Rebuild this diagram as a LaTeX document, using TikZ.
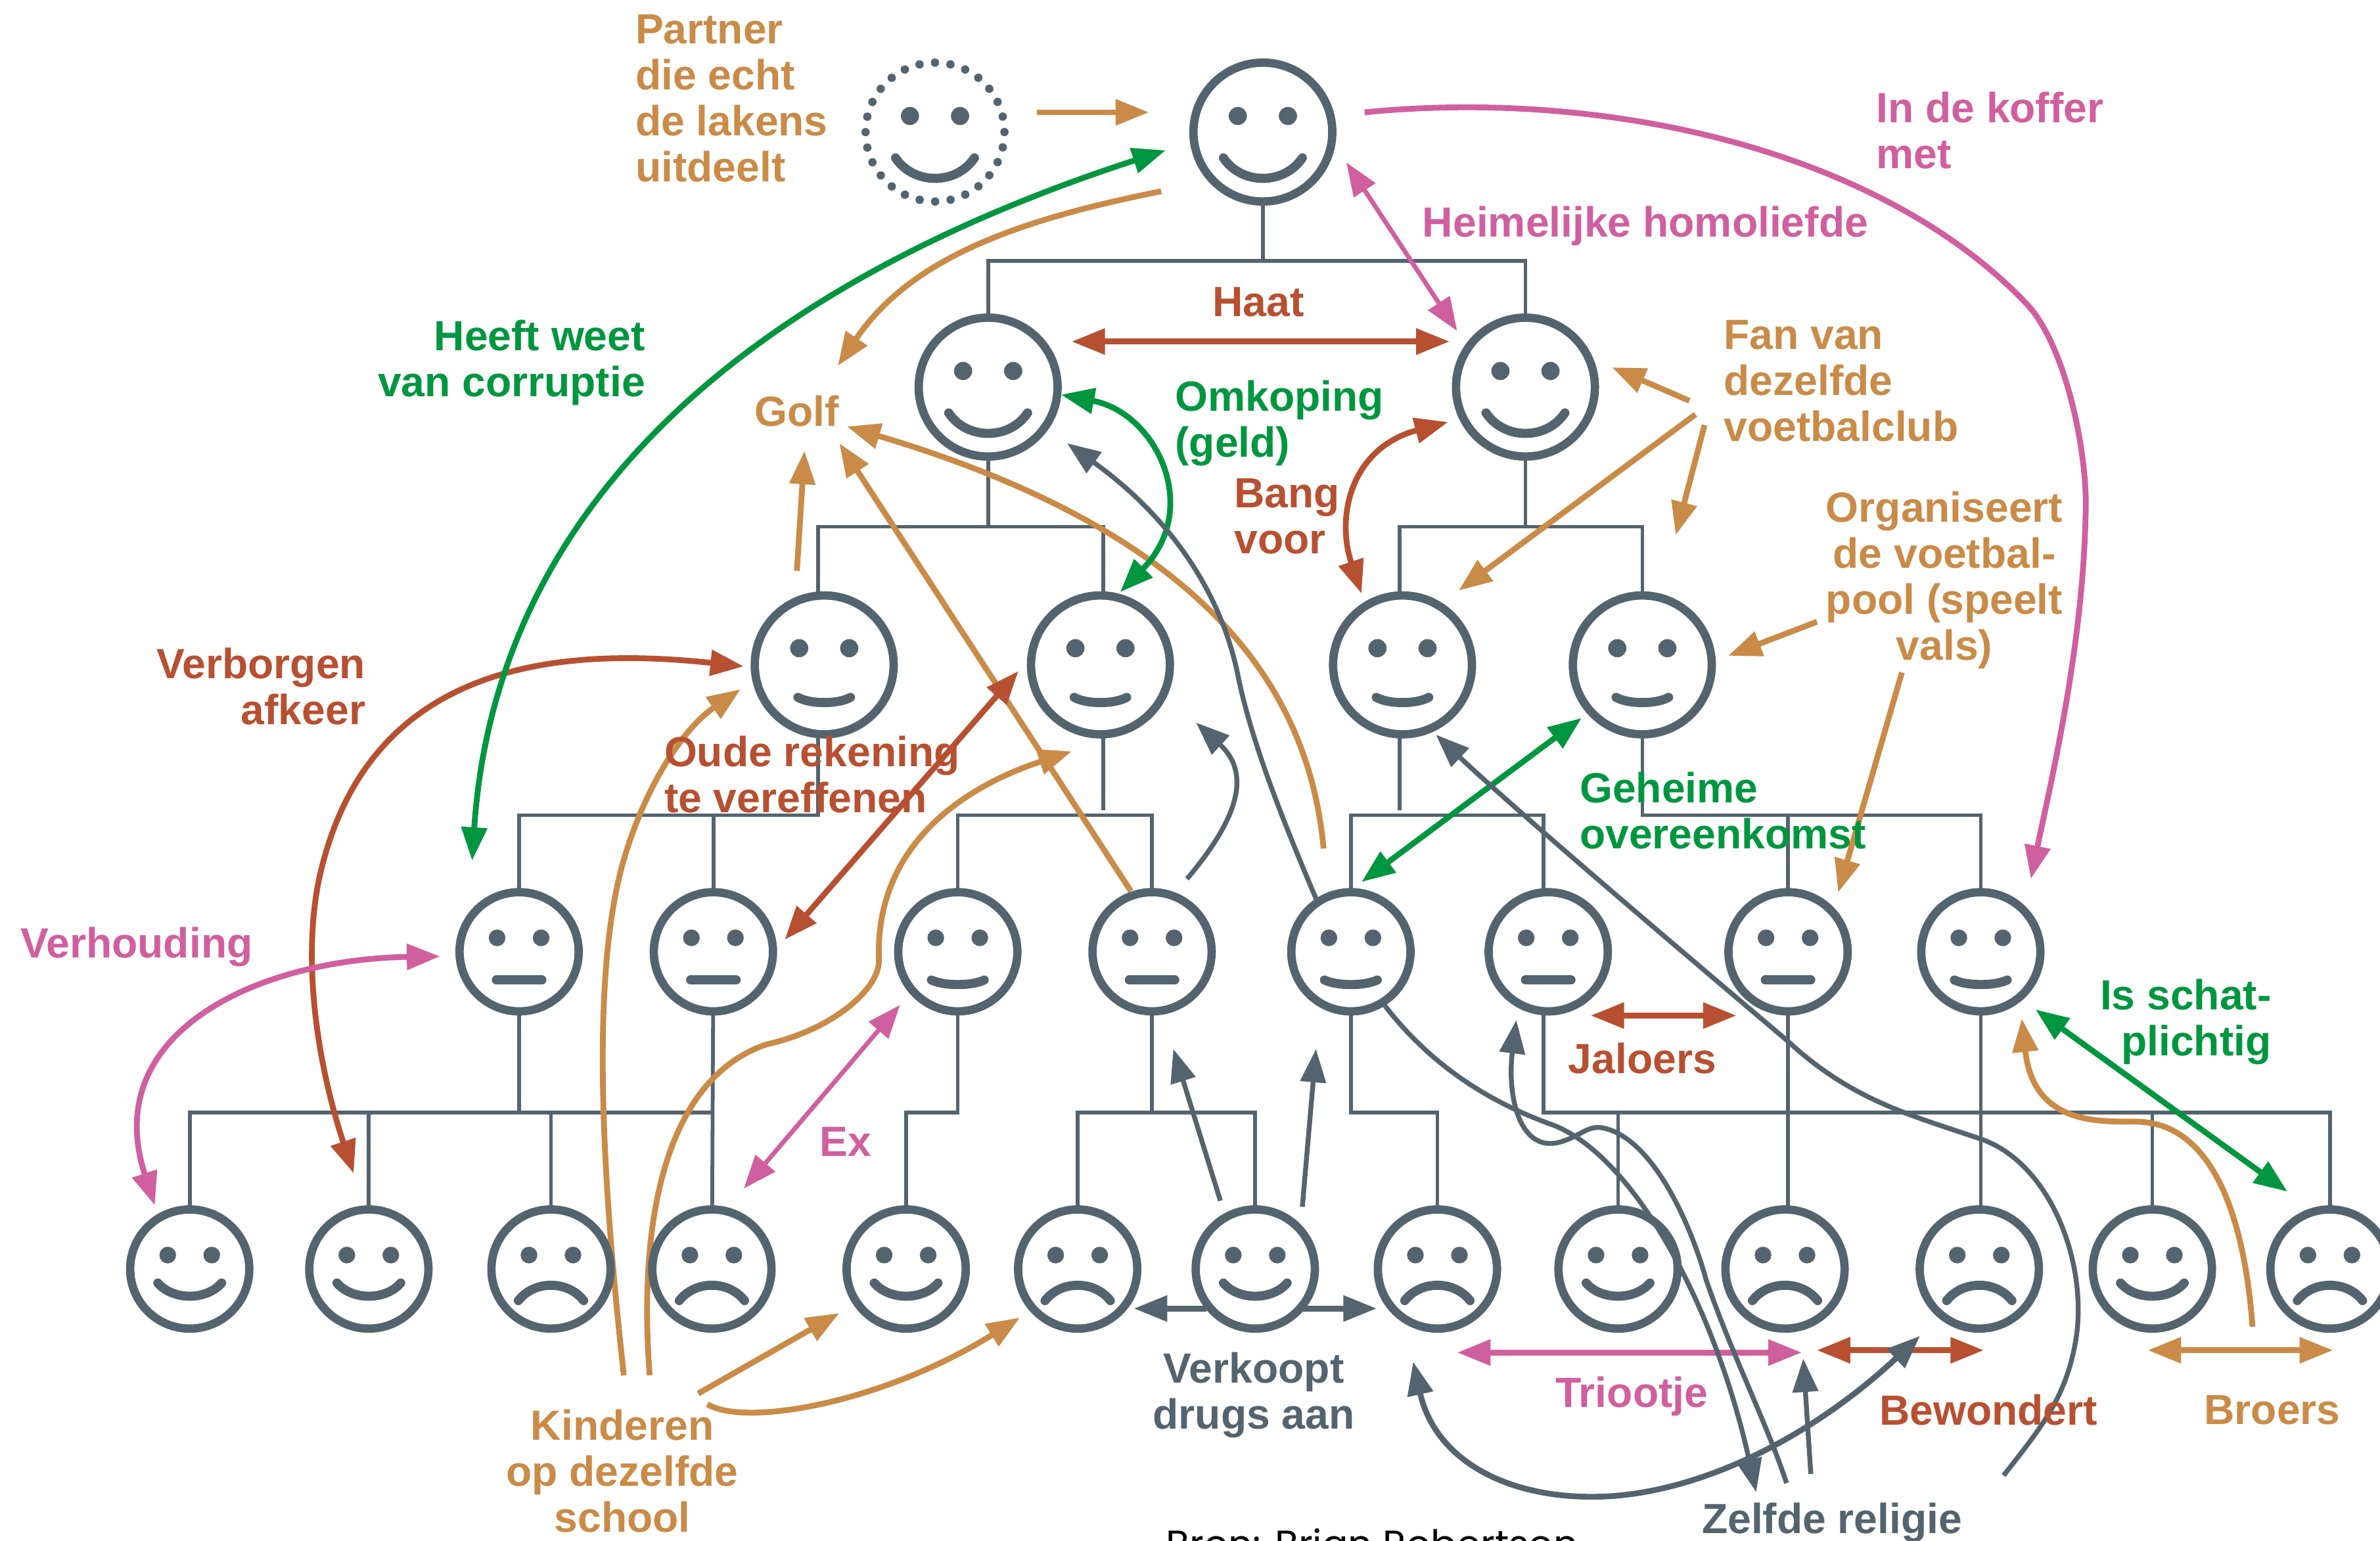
\documentclass[tikz,border=0pt]{standalone}
\usepackage{fontspec}
\setmainfont{Liberation Sans}
\newfontfamily\bronfont{Poppins}
\usetikzlibrary{arrows.meta,backgrounds}
\definecolor{leisteen}{HTML}{54646F}
\definecolor{oranje}{HTML}{C98B47}
\definecolor{roest}{HTML}{B75031}
\definecolor{roze}{HTML}{D05F9F}
\definecolor{groen}{HTML}{00963F}
\tikzset{
  hoofd/.style={circle,draw=leisteen,line width=5.5pt,inner sep=0pt,outer sep=0pt,minimum size=91.5pt},
  hoofdklein/.style={hoofd,minimum size=78.5pt},
  stippel/.style={hoofd,line cap=round,dash pattern=on 0pt off 10.27pt},
  mondlijn/.style={draw=leisteen,line width=6pt,line cap=round},
  boom/.style={draw=leisteen,line width=2.5pt},
  pijl/.style={line width=3.8pt,>={Triangle[length=22pt,width=16.5pt]}},
  tekst/.style={font=\bfseries\fontsize{27.8}{30.3}\selectfont,inner sep=0pt}
}
\newcommand{\ogen}[4]{\fill[leisteen] ([shift={(-#2,-#3)}]#1.center) circle (#4) ([shift={(#2,-#3)}]#1.center) circle (#4);}
\newcommand{\mond}[5]{\draw[mondlijn] ([shift={(-#2,#3)}]#1.center) .. controls ([shift={(-#4,#5)}]#1.center) and ([shift={(#4,#5)}]#1.center) .. ([shift={(#2,#3)}]#1.center);}
\newcommand{\blijgroot}[3]{\node[hoofd] (#1) at (#2,#3) {}; \ogen{#1}{16.5}{10.6}{6pt} \mond{#1}{26}{17}{14}{35}}
\newcommand{\flauwgroot}[3]{\node[hoofd] (#1) at (#2,#3) {}; \ogen{#1}{16.5}{11}{6pt} \mond{#1}{17.3}{21.4}{9}{26}}
\newcommand{\flauw}[3]{\node[hoofdklein] (#1) at (#2,#3) {}; \ogen{#1}{14.5}{9.2}{5.5pt} \mond{#1}{17.4}{18.6}{9}{22.6}}
\newcommand{\recht}[3]{\node[hoofdklein] (#1) at (#2,#3) {}; \ogen{#1}{14.5}{9.2}{5.5pt} \mond{#1}{15}{18.6}{5}{18.6}}
\newcommand{\blij}[3]{\node[hoofdklein] (#1) at (#2,#3) {}; \ogen{#1}{14.5}{9.2}{5.5pt} \mond{#1}{21}{9.2}{11}{20.8}}
\newcommand{\sip}[3]{\node[hoofdklein] (#1) at (#2,#3) {}; \ogen{#1}{14.5}{9.2}{5.5pt} \mond{#1}{21.5}{20.8}{11}{7.3}}

\begin{document}
\begin{tikzpicture}[x=1pt,y=-1pt]
\clip (0,0) rectangle (1568,1015);
% personen
\node[stippel] (PX) at (616,87) {};
\ogen{PX}{16.5}{10.6}{6pt} \mond{PX}{26}{17}{14}{35}
\blijgroot{P0}{832}{87}
\blijgroot{P1}{651}{255}
\blijgroot{P2}{1005}{255}
\flauwgroot{P3}{543}{438}
\flauwgroot{P4}{725}{438}
\flauwgroot{P5}{924}{438}
\flauwgroot{P6}{1082}{438}
\recht{P7}{342}{627}
\recht{P8}{470}{627}
\flauw{P9}{631}{627}
\recht{P10}{759}{627}
\flauw{P11}{890}{627}
\recht{P12}{1020}{627}
\recht{P13}{1178}{627}
\flauw{P14}{1305}{627}
\blij{P15}{125}{836}
\blij{P16}{243}{836}
\sip{P17}{363}{836}
\sip{P18}{469}{836}
\blij{P19}{597}{836}
\sip{P20}{710}{836}
\blij{P21}{827}{836}
\sip{P22}{947}{836}
\blij{P23}{1066}{836}
\sip{P24}{1176}{836}
\sip{P25}{1304}{836}
\blij{P26}{1418}{836}
\sip{P27}{1535}{836}
% teksten
\node[tekst,text=oranje,align=left] (TPartner) at (482,65) {Partner\\die echt\\de lakens\\uitdeelt};
\node[tekst,text=groen,align=right] (THeeft) at (337,239) {Heeft weet\\van corruptie};
\node[tekst,text=oranje] (TGolf) at (525,271) {Golf};
\node[tekst,text=roest,align=right] (TVerborgen) at (172,452) {Verborgen\\afkeer};
\node[tekst,text=roest,align=left] (TOude) at (535,510) {Oude rekening\\te vereffenen};
\node[tekst,text=roze] (TVerhouding) at (90,624) {Verhouding};
\node[tekst,text=roest] (THaat) at (829,199) {Haat};
\node[tekst,text=groen,align=left] (TOmkoping) at (843,279) {Omkoping\\(geld)};
\node[tekst,text=roest,align=left] (TBang) at (848,340) {Bang\\voor};
\node[tekst,text=roze] (THeimelijk) at (1084,149) {Heimelijke homoliefde};
\node[tekst,text=roze,align=left] (TKoffer) at (1311,86) {In de koffer\\met};
\node[tekst,text=oranje,align=left] (TFan) at (1213,251) {Fan van\\dezelfde\\voetbalclub};
\node[tekst,text=oranje,align=center] (TOrganiseert) at (1281,382) {Organiseert\\de voetbal-\\pool (speelt\\vals)};
\node[tekst,text=groen,align=left] (TGeheime) at (1135,534) {Geheime\\overeenkomst};
\node[tekst,text=groen,align=right] (TSchat) at (1440,673) {Is schat-\\plichtig};
\node[tekst,text=roest] (TJaloers) at (1082,697) {Jaloers};
\node[tekst,text=roze] (TEx) at (557,752) {Ex};
\node[tekst,text=leisteen,align=center] (TVerkoopt) at (826,919) {Verkoopt\\drugs aan};
\node[tekst,text=oranje,align=center] (TKinderen) at (410,969) {Kinderen\\op dezelfde\\school};
\node[tekst,text=roze] (TTriootje) at (1075,920) {Triootje};
\node[tekst,text=roest] (TBewondert) at (1310,929) {Bewondert};
\node[tekst,text=oranje] (TBroers) at (1497,929) {Broers};
\node[tekst,text=leisteen] (TReligie) at (1207,1003) {Zelfde religie};
\node[font=\bronfont\fontsize{25.3}{30}\selectfont,anchor=base west,inner sep=0pt] (TBron) at (768,1026) {Bron: Brian Robertson};
\begin{scope}[on background layer]
% stamboom
\draw[boom] (P0) -- (P0 |- 0,172);
\draw[boom] (P1) -- (P1 |- 0,172) -- (P2 |- 0,172) -- (P2);
\draw[boom] (P1) -- (P1 |- 0,347);
\draw[boom] ([xshift=-4pt]P3.north) |- (P1 |- 0,347) -| ([xshift=2pt]P4.north);
\draw[boom] (P2) -- (P2 |- 0,347);
\draw[boom] ([xshift=-2pt]P5.north) |- (P2 |- 0,347) -| (P6.north);
\draw[boom] ([xshift=-4pt]P3.south) |- (P7 |- 0,537) -- (P7);
\draw[boom] (P8) -- (P8 |- 0,537);
\draw[boom] ([xshift=2pt]P4.south) -- ++(0,50);
\draw[boom] (P9) -- (P9 |- 0,537) -- (P10 |- 0,537) -- (P10);
\draw[boom] ([xshift=-2pt]P5.south) -- ++(0,50);
\draw[boom] (P11) -- (P11 |- 0,537) -- ([xshift=-3pt]P12.center |- 0,537) -- ([xshift=-3pt]P12.north);
\draw[boom] (P6) |- (P14 |- 0,537) -- (P14);
\draw[boom] (P13) -- (P13 |- 0,537);
\draw[boom] (P7) -- (P7 |- 0,733);
\draw[boom] (P15) |- (P18 |- 0,733);
\draw[boom] (P16) -- (P16 |- 0,733);
\draw[boom] (P17) -- (P17 |- 0,733);
\draw[boom] (P8) -- (P18);
\draw[boom] (P9) -- (P9 |- 0,733) -| (P19);
\draw[boom] (P10) -- (P10 |- 0,733);
\draw[boom] (P20) |- (P21 |- 0,733) -- (P21);
\draw[boom] (P11) |- (P22 |- 0,733) -- (P22);
\draw[boom] ([xshift=-3pt]P12.south) |- (P27 |- 0,733) -- (P27);
\draw[boom] (P23) -- (P23 |- 0,733);
\draw[boom] (P26) -- (P26 |- 0,733);
\draw[boom] (P13) -- (P13 |- P24.north);
\draw[boom] (P14) -- (P14 |- P25.north);
% oranje
\draw[pijl,oranje,->] ([shift={(67,-13)}]PX.center) -- ([shift={(-75,-13)}]P0.center);
\draw[pijl,oranje,->] ([shift={(-67,39)}]P0.center) .. controls (670,145) and (600,170) .. ([shift={(27,-30)}]TGolf.center);
\draw[pijl,oranje,->] ([shift={(-18,-62)}]P3.center) -- ([shift={(5,26)}]TGolf.center);
\draw[pijl,oranje,->] ([shift={(-14,-40)}]P10.center) -- ([shift={(28,21)}]TGolf.center);
\draw[pijl,oranje,->] ([shift={(-18,-68)}]P11.center) .. controls (862,450) and (790,350) .. ([shift={(33,10)}]TGolf.center);
\draw[pijl,oranje,->] ([shift={(-100,13)}]TFan.center) -- ([shift={(57,-13)}]P2.center);
\draw[pijl,oranje,->] ([shift={(-96,22)}]TFan.center) -- ([shift={(37,-49)}]P5.center);
\draw[pijl,oranje,->] ([shift={(-90,29)}]TFan.center) -- ([shift={(22,-85.5)}]P6.center);
\draw[pijl,oranje,->] ([shift={(-84,27.6)}]TOrganiseert.center) -- ([shift={(56.6,-6)}]P6.center);
\draw[pijl,oranje,->] ([shift={(-28,61)}]TOrganiseert.center) -- ([shift={(33,-39)}]P13.center);
\draw[pijl,oranje,->] ([shift={(1,-63)}]TKinderen.center) .. controls (397,780) and (388,640) .. (412,563) .. controls (426,517) and (450,480) .. ([shift={(-55,16)}]P3.center);
\draw[pijl,oranje,->] ([shift={(18,-63)}]TKinderen.center) .. controls (420,800) and (440,710) .. (505,688) .. controls (550,678) and (581,650) .. (579,631) .. controls (577,560) and (630,520) .. ([shift={(-19,57)}]P4.center);
\draw[pijl,oranje,->] ([shift={(50,-51)}]TKinderen.center) -- ([shift={(-44,29)}]P19.center);
\draw[pijl,oranje,->] ([shift={(56,-44)}]TKinderen.center) .. controls (490,940) and (580,925) .. ([shift={(-38,32)}]P20.center);
\draw[pijl,oranje,<->] ([shift={(-3,53.5)}]P26.center) -- ([shift={(2,53.5)}]P27.center);
\draw[pijl,oranje,->] ([shift={(-13,-55)}]TBroers.center) .. controls (1480,820) and (1465,742) .. (1410,739) .. controls (1390,738) and (1340,745) .. ([shift={(27,44)}]P14.center);
% rood
\draw[pijl,roest,<->] ([shift={(55,-30)}]P1.center) -- ([shift={(-50,-30)}]P2.center);
\draw[pijl,roest,<->] ([shift={(-27,-47)}]P5.center) .. controls (880,340) and (890,295) .. ([shift={(-51,23)}]P2.center);
\draw[pijl,roest,<->] ([shift={(-53,1)}]P3.center) .. controls (360,425) and (240,440) .. (210,580) .. controls (198,640) and (212,710) .. ([shift={(-10,-63)}]P16.center);
\draw[pijl,roest,<->] ([shift={(-54,4)}]P4.center) -- ([shift={(47,-8)}]P8.center);
\draw[pijl,roest,<->] ([shift={(28,42)}]P12.center) -- ([shift={(-34,42)}]P13.center);
\draw[pijl,roest,<->] ([shift={(21,53.5)}]P24.center) -- ([shift={(3,53.5)}]P25.center);
% roze
\draw[pijl,roze,->] ([shift={(67,-13)}]P0.center) .. controls (1060,58) and (1240,100) .. (1335,200) .. controls (1361,227) and (1376,300) .. (1374,340) .. controls (1372,430) and (1350,520) .. ([shift={(33,-48)}]P14.center);
\draw[pijl,line width=3pt,roze,<->] ([shift={(55,20)}]P0.center) -- ([shift={(-45,-37)}]P2.center);
\draw[pijl,roze,<->] ([shift={(-52,3)}]P7.center) .. controls (170,632) and (65,680) .. ([shift={(-23,-42)}]P15.center);
\draw[pijl,line width=3pt,roze,<->] ([shift={(-38,35)}]P9.center) -- ([shift={(21,-53)}]P18.center);
\draw[pijl,roze,<->] ([shift={(13,55)}]P22.center) -- ([shift={(11,55)}]P24.center);
% groen
\draw[pijl,groen,<->] ([shift={(-64,12)}]P0.center) .. controls (580,160) and (330,280) .. ([shift={(-31,-60)}]P7.center);
\draw[pijl,groen,<->] ([shift={(48,5)}]P1.center) .. controls (762,272) and (792,335) .. ([shift={(13,-48)}]P4.center);
\draw[pijl,groen,<->] ([shift={(-40,35)}]P6.center) -- ([shift={(7,-46)}]P11.center);
\draw[pijl,groen,<->] ([shift={(36,38)}]P14.center) -- ([shift={(-28,-51)}]P27.center);
% leisteen
\draw[pijl,line width=3.2pt,leisteen,->] ([shift={(-23,-35)}]P11.center) .. controls (845,540) and (825,490) .. (816,447) .. controls (805,390) and (770,340) .. ([shift={(52,37)}]P1.center);
\draw[pijl,line width=3.2pt,leisteen,->] ([shift={(23,-48)}]P10.center) .. controls (815,540) and (825,510) .. ([shift={(63,38)}]P4.center);
\draw[pijl,line width=3.2pt,leisteen,->] ([shift={(-23,-45)}]P21.center) -- ([shift={(14,64)}]P10.center);
\draw[pijl,line width=3.2pt,leisteen,->] ([shift={(31,-41)}]P21.center) -- ([shift={(-23,64)}]P11.center);
\draw[pijl,leisteen,->] ([shift={(-32,26)}]P21.center) -- ([shift={(37,26)}]P20.center);
\draw[pijl,leisteen,->] ([shift={(31,26)}]P21.center) -- ([shift={(-40,26)}]P22.center);
\draw[pijl,line width=3.2pt,leisteen,->] ([shift={(22,35)}]P11.center) .. controls (945,705) and (985,727) .. (1020,740) .. controls (1075,758) and (1130,860) .. ([shift={(-50,-20)}]TReligie.center);
\draw[pijl,line width=3.2pt,leisteen,<-] ([shift={(-21,45)}]P12.center) .. controls (993,720) and (1000,757) .. (1025,753) .. controls (1040,750) and (1045,741) .. (1056,743) .. controls (1090,750) and (1115,810) .. (1124,843) .. controls (1140,890) and (1165,940) .. ([shift={(-30,-26)}]TReligie.center);
\draw[pijl,line width=3.2pt,leisteen,->] ([shift={(-14,-32)}]TReligie.center) -- ([shift={(12,59)}]P24.center);
\draw[pijl,leisteen,<->] ([shift={(-16,61)}]P22.center) .. controls (945,960) and (990,987) .. (1052,986) .. controls (1115,985) and (1190,950) .. ([shift={(-39,44)}]P25.center);
\draw[pijl,line width=3.2pt,leisteen,<-] ([shift={(22,46)}]P5.center) .. controls (1000,535) and (1100,620) .. (1178,686) .. controls (1220,725) and (1260,735) .. (1304,750) .. controls (1350,765) and (1375,830) .. (1368,880) .. controls (1362,920) and (1345,940) .. ([shift={(113,-31)}]TReligie.center);
\end{scope}
\end{tikzpicture}
\end{document}
